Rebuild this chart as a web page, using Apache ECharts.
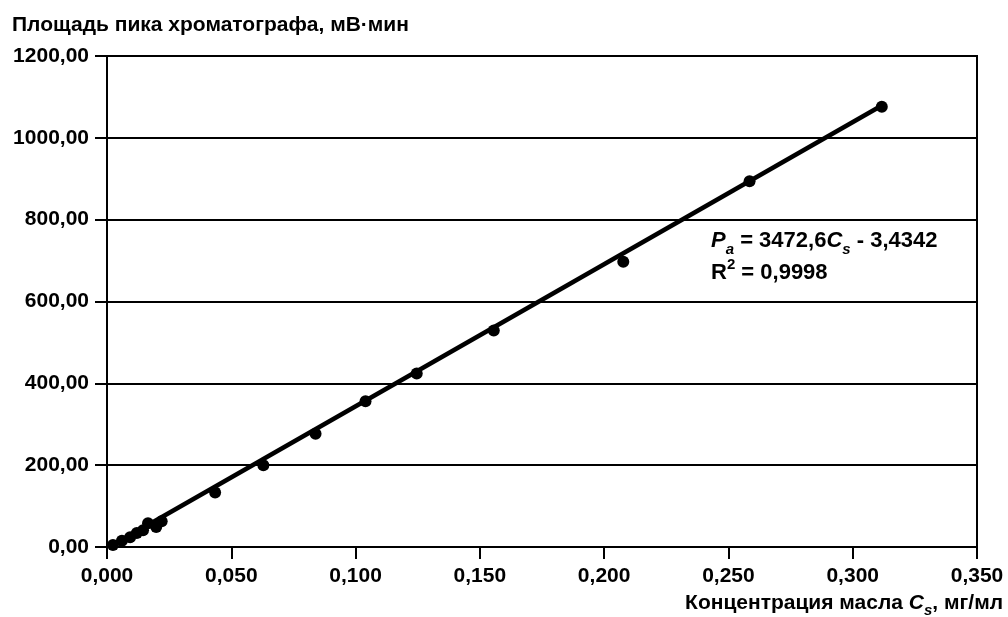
<!DOCTYPE html>
<html>
<head>
<meta charset="utf-8">
<script src="https://cdn.jsdelivr.net/npm/echarts@6/dist/echarts.min.js"></script>
<style>html,body{margin:0;padding:0;background:#fff}#c{width:1008px;height:617px}</style>
</head>
<body>
<div id="c"></div>
<script>
// Data
const concentration = [0.0024, 0.006, 0.0093, 0.012, 0.0145, 0.0165, 0.0198, 0.022, 0.0435, 0.0629, 0.0839, 0.104, 0.1246, 0.1556, 0.2077, 0.2585, 0.3117];
const peakArea = [5, 15, 24, 34, 41, 58, 49, 63, 133, 200, 277, 356, 424, 529, 697, 894, 1076];
const slope = 3472.6;
const intercept = -3.4342;
const fitRange = [0.0024, 0.3117];
const yTicks = [0, 200, 400, 600, 800, 1000, 1200];
const xTicks = [0, 0.05, 0.1, 0.15, 0.2, 0.25, 0.3, 0.35];

const points = concentration.map((x, i) => [x, peakArea[i]]);
const fitLine = fitRange.map(x => [x, slope * x + intercept]);
const FONT = 'Liberation Sans, Arial, sans-serif';

const chart = echarts.init(document.getElementById('c'));
chart.setOption({
  animation: false,
  backgroundColor: '#fff',
  grid: { left: 107, right: 31, top: 56, bottom: 70, show: true, borderColor: '#000', borderWidth: 2 },
  xAxis: {
    type: 'value', min: xTicks[0], max: xTicks[xTicks.length - 1], interval: 0.05,
    axisLine: { show: true, lineStyle: { color: '#000', width: 2 } },
    axisTick: { show: true, length: 12, lineStyle: { color: '#000', width: 2 } },
    splitLine: { show: false },
    axisLabel: { color: '#000', fontSize: 21, fontWeight: 'bold', fontFamily: FONT, margin: 19,
      formatter: v => v.toFixed(3).replace('.', ',') }
  },
  yAxis: {
    type: 'value', min: yTicks[0], max: yTicks[yTicks.length - 1], interval: 200,
    axisLine: { show: true, lineStyle: { color: '#000', width: 2 } },
    axisTick: { show: true, length: 12, lineStyle: { color: '#000', width: 2 } },
    splitLine: { show: true, lineStyle: { color: '#000', width: 2 } },
    axisLabel: { color: '#000', fontSize: 21, fontWeight: 'bold', fontFamily: FONT, margin: 18,
      formatter: v => v.toFixed(2).replace('.', ',') }
  },
  series: [
    { type: 'line', data: fitLine, showSymbol: false, lineStyle: { color: '#000', width: 4.5 }, z: 3 },
    { type: 'scatter', data: points, symbol: 'circle', symbolSize: 12, itemStyle: { color: '#000', opacity: 1 }, z: 4 }
  ],
  graphic: [
    { type: 'text', left: 12, top: 15, style: { text: 'Площадь пика хроматографа, мВ·мин', fill: '#000', font: 'bold 21px ' + FONT } },
    { type: 'text', right: 5, top: 588, style: {
      text: 'Концентрация масла {i|C}{sub|s}, мг/мл', fill: '#000', font: 'bold 21px ' + FONT, lineHeight: 30,
      rich: { i: { fontStyle: 'italic', fontWeight: 'bold', fontSize: 21, fontFamily: FONT, verticalAlign: 'middle', lineHeight: 30 },
              sub: { fontStyle: 'italic', fontWeight: 'bold', fontSize: 15, fontFamily: FONT, verticalAlign: 'bottom', lineHeight: 30 } } } },
    { type: 'text', left: 711, top: 225, style: {
      text: '{i|P}{sub|a} = 3472,6{i|C}{sub|s} - 3,4342\nR{sup|2} = 0,9998', fill: '#000', font: 'bold 22px ' + FONT, lineHeight: 32,
      rich: { i: { fontStyle: 'italic', fontWeight: 'bold', fontSize: 22, fontFamily: FONT, verticalAlign: 'middle', lineHeight: 32 },
              sub: { fontStyle: 'italic', fontWeight: 'bold', fontSize: 15, fontFamily: FONT, verticalAlign: 'bottom', lineHeight: 32 },
              sup: { fontSize: 15, fontWeight: 'bold', fontFamily: FONT, verticalAlign: 'top', lineHeight: 32 } } } }
  ]
});
</script>
</body>
</html>
